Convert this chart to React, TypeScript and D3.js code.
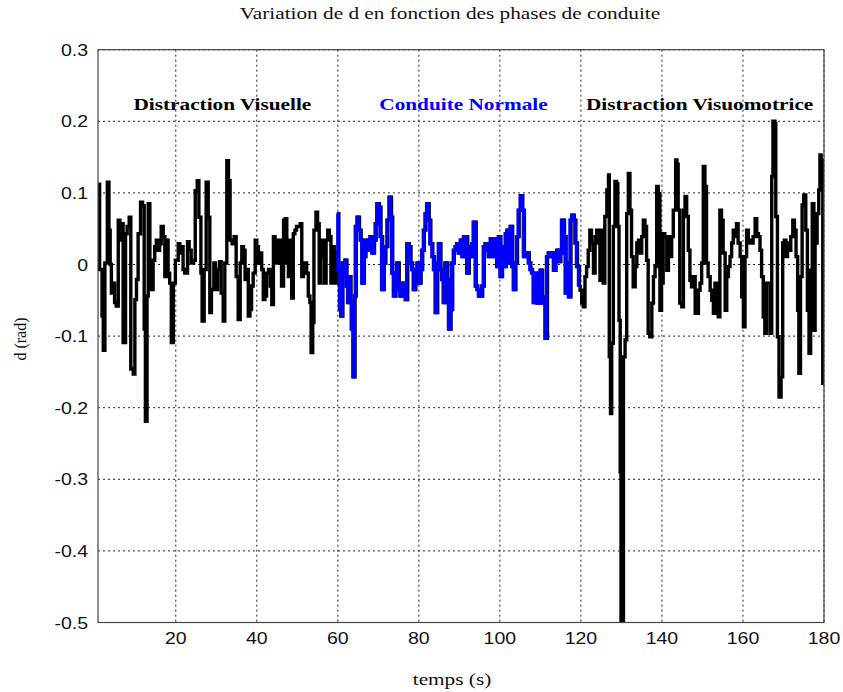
import React from "react";
import * as d3 from "d3";

type Pt = [number, number];

const phaseVisuelle: Pt[] = [
  [0.8,0.10],[1.0,0.112],[1.2,-0.007],[1.8,-0.072],[2.1,-0.12],[2.5,0.002],[3.1,0.115],[3.5,0.048],[3.8,0.0],[4.1,-0.04],[4.5,-0.026],[4.9,-0.053],[5.3,-0.058],[5.8,0.062],[6.2,0.034],[6.6,0.057],[7.0,-0.109],[7.6,0.043],[8.0,0.053],[8.5,0.066],[8.9,-0.146],[9.5,-0.153],[9.9,-0.049],[10.3,-0.021],[10.7,0.043],[11.3,0.087],[11.8,0.082],[12.2,-0.09],[12.5,-0.219],[12.9,-0.044],[13.2,0.085],[13.6,-0.003],[14.0,-0.035],[14.4,0.006],[14.8,0.025],[15.2,0.034],[15.6,0.02],[16.0,0.029],[16.4,0.053],[16.9,0.039],[17.3,-0.017],[17.7,0.034],[18.1,-0.012],[18.5,-0.026],[18.9,-0.109],[19.4,-0.026],[19.9,0.006],[20.6,0.029],[21.0,0.016],[21.4,0.025],[21.8,-0.007],[22.2,-0.012],[22.9,0.032],[23.3,0.02],[23.8,0.002],[24.4,0.006],[24.8,0.103],[25.3,0.117],[25.7,0.066],[26.2,-0.012],[26.5,-0.079],[27.0,-0.007],[27.5,0.115],[28.0,0.066],[28.4,-0.067],[28.8,-0.035],[29.4,0.002],[29.8,-0.035],[30.3,-0.007],[30.8,0.004],[31.2,-0.04],[31.7,-0.079],[32.1,0.002],[32.6,0.145],[33.0,0.117],[33.4,0.034],[33.9,0.029],[34.4,0.039],[34.9,-0.017],[35.4,-0.077],[35.9,0.002],[36.3,0.025],[36.7,0.02],[37.1,-0.021],[37.5,-0.007],[37.9,-0.072],[38.3,-0.063],[38.7,-0.03],[39.1,-0.012],[39.6,0.034],[40.0,0.025],[40.4,0.002],[40.8,0.016],[41.2,-0.007],[41.6,-0.049],[42.0,-0.044],[42.4,-0.012],[42.9,-0.007],[43.3,-0.03],[43.7,-0.056],[44.1,0.039],[44.5,0.034],[44.9,0.002],[45.3,0.025],[45.7,0.034],[46.1,-0.03],[46.6,0.062],[47.0,0.064],[47.4,0.002],[47.8,-0.017],[48.2,0.034],[48.6,-0.047],[49.0,0.043],[49.4,0.048],[49.8,0.053],[50.3,0.053],[50.7,0.057],[51.1,-0.017],[51.5,-0.007],[51.9,0.002],[52.3,-0.012],[52.7,-0.044],[53.1,-0.053],[53.4,-0.123],[53.8,-0.081],[54.1,0.048],[54.6,0.073],[55.0,0.057],[55.4,-0.026],[55.8,0.034],[56.3,0.011],[56.7,-0.026],[57.1,0.034],[57.5,0.048],[57.9,0.039],[58.3,-0.026],[58.7,0.025],[59.1,-0.026],[59.6,0.002],[59.7,0.02]
];

const phaseNormale: Pt[] = [
  [59.7,0.071],[60.0,-0.007],[60.4,-0.063],[60.7,-0.072],[61.0,0.002],[61.4,-0.012],[61.7,0.006],[62.0,-0.03],[62.4,-0.053],[62.7,-0.017],[63.0,-0.053],[63.3,-0.09],[63.7,-0.157],[64.0,-0.044],[64.3,0.053],[64.7,0.066],[65.1,0.048],[65.5,0.034],[65.9,-0.026],[66.3,0.011],[66.7,0.034],[67.1,0.02],[67.5,0.029],[67.9,0.039],[68.4,0.016],[68.8,0.034],[69.2,0.057],[69.6,0.085],[70.0,0.08],[70.4,0.039],[70.8,-0.035],[71.2,0.002],[71.6,0.025],[72.1,0.062],[72.6,0.094],[73.0,0.066],[73.3,-0.012],[73.7,-0.044],[74.1,-0.021],[74.5,0.002],[74.9,-0.035],[75.3,-0.044],[75.7,-0.026],[76.2,-0.044],[76.6,-0.049],[77.0,0.029],[77.4,0.025],[77.8,0.002],[78.2,-0.007],[78.6,-0.035],[79.0,-0.007],[79.5,0.002],[79.9,-0.026],[80.3,-0.007],[80.7,0.02],[81.1,0.048],[81.5,0.071],[81.9,0.085],[82.3,0.062],[82.7,0.029],[83.2,0.011],[83.6,-0.007],[84.0,-0.067],[84.4,0.002],[84.8,0.029],[85.2,-0.007],[85.6,-0.021],[86.0,-0.053],[86.4,0.002],[86.9,-0.021],[87.3,-0.09],[87.7,-0.063],[88.1,0.002],[88.5,0.02],[88.9,0.025],[89.3,0.029],[89.7,0.016],[90.2,0.034],[90.6,0.011],[91.0,0.039],[91.4,0.039],[91.8,-0.012],[92.2,0.025],[92.6,0.011],[93.0,0.029],[93.4,0.059],[93.9,-0.03],[94.3,-0.035],[94.7,-0.044],[95.1,-0.044],[95.5,-0.03],[95.9,0.025],[96.3,0.029],[96.7,0.02],[97.1,0.011],[97.6,0.036],[98.0,0.011],[98.4,0.036],[98.8,0.034],[99.2,-0.003],[99.6,0.039],[100.0,-0.017],[100.4,0.025],[100.8,-0.003],[101.3,0.043],[101.7,0.048],[102.1,0.002],[102.5,0.053],[102.9,-0.003],[103.3,-0.035],[103.7,0.002],[104.1,0.039],[104.5,0.076],[105.0,0.096],[105.4,0.076],[105.8,0.011],[106.2,0.011],[106.6,0.016],[107.0,0.002],[107.4,-0.007],[107.8,-0.012],[108.2,-0.053],[108.7,-0.012],[109.1,-0.054],[109.5,-0.012],[109.9,-0.008],[110.3,-0.054],[110.7,-0.045],[111.1,-0.103],[111.5,0.011],[111.9,0.016],[112.4,0.011],[112.8,0.016],[113.2,-0.008],[113.6,0.011],[114.0,0.02],[114.4,0.004],[114.8,0.016],[115.2,0.062],[115.7,0.039],[116.1,-0.04],[116.5,0.002],[116.9,-0.045],[117.3,0.062],[117.7,0.069],[118.1,0.062],[118.5,0.03],[118.9,-0.003],[119.4,-0.031]
];

const phaseVisuomotrice: Pt[] = [
  [119.4,-0.031],[119.8,-0.036],[120.2,-0.054],[120.6,-0.059],[121.0,-0.017],[121.4,-0.003],[121.8,0.02],[122.2,0.048],[122.6,0.03],[123.1,-0.012],[123.5,0.039],[123.9,0.048],[124.3,0.03],[124.7,-0.022],[125.1,0.048],[125.5,-0.026],[125.9,0.067],[126.4,0.104],[126.8,0.125],[127.0,-0.129],[127.3,-0.208],[127.6,-0.11],[128.0,0.053],[128.4,0.116],[128.8,0.113],[129.1,0.053],[129.4,-0.078],[129.7,-0.29],[129.9,-0.52],[130.1,-0.3],[130.3,-0.52],[130.5,-0.129],[130.9,-0.105],[131.3,0.071],[131.7,0.127],[132.1,0.076],[132.5,0.011],[132.9,-0.031],[133.4,-0.003],[133.8,0.03],[134.2,0.034],[134.6,0.016],[135.0,0.039],[135.4,0.062],[135.8,0.053],[136.2,0.006],[136.6,-0.096],[137.0,-0.101],[137.5,-0.054],[137.9,-0.017],[138.3,-0.003],[138.7,0.109],[139.1,0.099],[139.5,-0.064],[139.9,-0.026],[140.3,0.043],[140.7,0.039],[141.2,-0.008],[141.6,0.039],[142.0,0.011],[142.4,0.039],[142.8,0.076],[143.4,0.146],[143.7,0.14],[144.0,0.076],[144.4,-0.054],[144.9,-0.059],[145.3,0.076],[145.7,0.095],[146.1,0.067],[146.5,0.02],[146.9,-0.022],[147.3,-0.031],[147.7,-0.017],[148.2,-0.068],[148.6,-0.068],[149.0,-0.036],[149.4,-0.026],[149.8,0.002],[150.2,0.137],[150.6,0.109],[151.0,0.002],[151.4,-0.017],[151.9,-0.036],[152.3,-0.05],[152.7,-0.068],[153.1,-0.026],[153.5,-0.04],[153.9,-0.073],[154.3,0.076],[154.7,0.062],[155.1,0.016],[155.6,-0.064],[156.0,-0.017],[156.4,-0.003],[156.8,0.011],[157.2,0.03],[157.6,0.048],[158.0,0.039],[158.4,0.057],[158.8,0.03],[159.3,0.011],[159.7,-0.045],[160.1,-0.087],[160.5,0.011],[160.9,0.048],[161.3,0.03],[161.7,0.034],[162.1,0.03],[162.5,0.039],[163.0,0.064],[163.4,0.043],[163.8,0.039],[164.2,0.02],[164.6,-0.017],[165.0,-0.073],[165.4,-0.096],[165.8,-0.026],[166.2,-0.026],[166.7,-0.096],[167.1,0.123],[167.4,0.2],[167.9,0.197],[168.1,0.067],[168.5,-0.101],[168.9,-0.185],[169.4,-0.157],[169.8,0.03],[170.2,0.034],[170.6,0.011],[171.0,0.03],[171.4,0.02],[171.8,0.039],[172.3,0.062],[172.7,0.048],[173.1,0.011],[173.5,-0.064],[173.8,-0.152],[174.2,-0.017],[174.6,0.083],[175.0,0.097],[175.5,0.048],[175.9,-0.064],[176.3,-0.124],[176.7,-0.008],[177.1,0.085],[177.5,-0.092],[177.8,0.03],[178.3,0.071],[178.7,0.104],[179.0,0.153],[179.3,0.146],[179.7,-0.166],[180.0,-0.147]
];

const xTicks = [20, 40, 60, 80, 100, 120, 140, 160, 180];
const yTicks = [0.3, 0.2, 0.1, 0, -0.1, -0.2, -0.3, -0.4, -0.5];

const phaseLabels = [
  { text: "Distraction Visuelle", t: 31.5, color: "#000000" },
  { text: "Conduite Normale", t: 91, color: "#0000ff" },
  { text: "Distraction Visuomotrice", t: 149.3, color: "#000000" },
];

const W = 843, H = 692;
const L = 98, R = 824, T = 49.7, B = 622.5;
const SX = 1.33;

export default function App() {
  const x = d3.scaleLinear().domain([0.8, 180]).range([L, R]);
  const y = d3.scaleLinear().domain([-0.5, 0.3]).range([B, T]);
  const line = d3.line<Pt>().x(d => x(d[0])).y(d => y(d[1])).curve(d3.curveStepAfter);
  const serif = "'Liberation Serif', 'Times New Roman', serif";
  const sans = "'Liberation Sans', Arial, sans-serif";
  const fmt = (v: number) => (Math.abs(v) < 1e-9 ? "0" : v.toFixed(1));

  return (
    <svg width={W} height={H} style={{ position: "absolute", left: 0, top: 0, background: "#fff" }}>
      <rect x={0} y={0} width={W} height={H} fill="#fff" />
      <defs>
        <clipPath id="plotclip">
          <rect x={L} y={T} width={R - L} height={B - T} />
        </clipPath>
      </defs>
      {xTicks.map(t => (
        <line key={"gx" + t} x1={x(t)} x2={x(t)} y1={T} y2={B} stroke="#222" strokeWidth={1} strokeDasharray="2,3" />
      ))}
      {yTicks.map(v => (
        <line key={"gy" + v} x1={L} x2={R} y1={y(v)} y2={y(v)} stroke="#222" strokeWidth={1} strokeDasharray="2,3" />
      ))}
      <g clipPath="url(#plotclip)" fill="none" strokeWidth={3.4} strokeLinejoin="miter">
        <path d={line(phaseVisuelle) || ""} stroke="#000" />
        <path d={line(phaseVisuomotrice) || ""} stroke="#000" />
        <path d={line(phaseNormale) || ""} stroke="#000" transform="translate(1,0)" />
        <path d={line(phaseNormale) || ""} stroke="#0000ff" />
      </g>
      <rect x={L} y={T} width={R - L} height={B - T} fill="none" stroke="#444" strokeWidth={1.2} />
      {xTicks.map(t => (
        <text key={"tx" + t} transform={`translate(${x(t)},${644}) scale(1.22,1)`} textAnchor="middle" fontFamily={sans} fontSize={16} fill="#111">
          {t}
        </text>
      ))}
      {yTicks.map(v => (
        <text key={"ty" + v} transform={`translate(${88},${y(v) + 6}) scale(1.22,1)`} textAnchor="end" fontFamily={sans} fontSize={16} fill="#111">
          {fmt(v)}
        </text>
      ))}
      {phaseLabels.map(p => (
        <text key={p.text} transform={`translate(${x(p.t)},${110}) scale(${SX},1)`} textAnchor="middle" fontFamily={serif} fontWeight="bold" fontSize={16} fill={p.color}>
          {p.text}
        </text>
      ))}
      <text transform={`translate(${450},${19}) scale(${SX},1)`} textAnchor="middle" fontFamily={serif} fontSize={16} fill="#111">
        Variation de d en fonction des phases de conduite
      </text>
      <text transform={`translate(${452},${685}) scale(${SX},1)`} textAnchor="middle" fontFamily={serif} fontSize={16} fill="#111">
        temps (s)
      </text>
      <text transform={`translate(${26},${339}) rotate(-90)`} textAnchor="middle" fontFamily={serif} fontSize={16} fill="#111">
        d (rad)
      </text>
    </svg>
  );
}
